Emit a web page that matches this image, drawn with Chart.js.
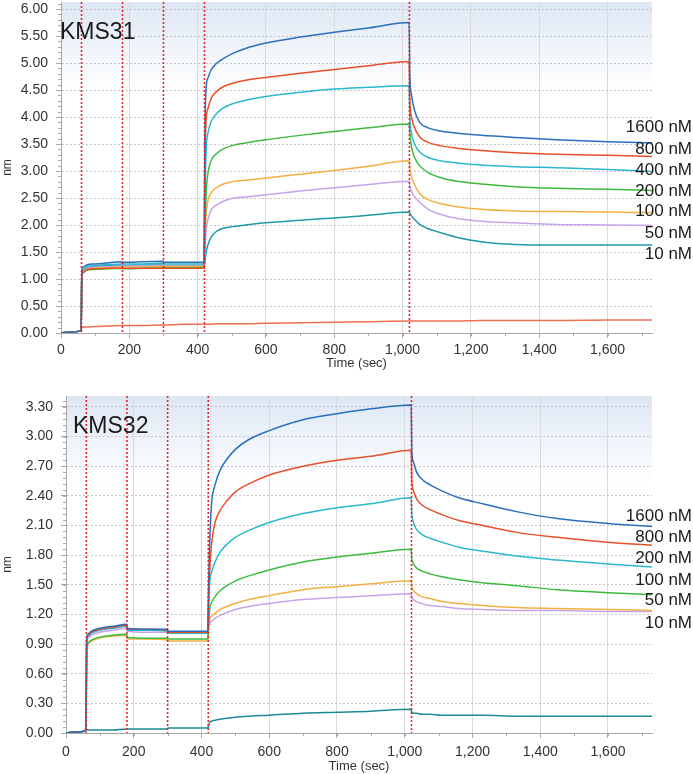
<!DOCTYPE html>
<html>
<head>
<meta charset="utf-8">
<script src="https://cdn.jsdelivr.net/npm/chart.js@4.4.1/dist/chart.umd.min.js"></script>
<style>
  html, body { margin: 0; padding: 0; background: #ffffff; }
  #wrap { position: relative; width: 693px; height: 774px; overflow: hidden; }
  canvas { position: absolute; left: 0; }
  #c1 { top: 0; }
  #c2 { top: 372px; }
</style>
</head>
<body>
<div id="wrap">
  <canvas id="c1" width="693" height="372"></canvas>
  <canvas id="c2" width="693" height="402"></canvas>
</div>
<script>
// ---------- DATA ----------
const time = [0, 30, 59, 61, 65, 75, 100, 140, 179, 181, 240, 299, 301, 360, 419,
  421, 425, 430, 440, 455, 475, 500, 540, 600, 700, 800, 900, 1019,
  1021, 1026, 1035, 1050, 1075, 1110, 1160, 1230, 1330, 1450, 1600, 1730];

const stepTimes = [60, 180, 300, 420, 1020];

// KMS31 (nm)
const k31_1600 = [0,0.02,0.05,1.15,1.22,1.26,1.28,1.30,1.32,1.31,1.32,1.33,1.31,1.31,1.31,
  3.5,4.55,4.72,4.88,4.99,5.08,5.17,5.27,5.37,5.48,5.57,5.65,5.75,
  4.8,4.4,4.12,3.9,3.8,3.74,3.70,3.66,3.62,3.58,3.54,3.52];
const k31_800 = [0,0.02,0.05,1.05,1.12,1.17,1.19,1.20,1.20,1.20,1.20,1.20,1.20,1.20,1.20,
  3.0,3.95,4.15,4.35,4.47,4.56,4.62,4.68,4.73,4.81,4.88,4.95,5.03,
  4.3,4.0,3.8,3.63,3.53,3.47,3.42,3.38,3.34,3.31,3.29,3.27];
const k31_400 = [0,0.02,0.05,1.12,1.18,1.23,1.25,1.27,1.28,1.28,1.28,1.29,1.28,1.28,1.28,
  2.4,3.4,3.7,3.92,4.06,4.17,4.24,4.31,4.38,4.46,4.52,4.55,4.58,
  4.0,3.7,3.5,3.35,3.25,3.19,3.15,3.11,3.08,3.06,3.03,2.99];
const k31_200 = [0,0.02,0.05,1.06,1.12,1.16,1.18,1.19,1.20,1.19,1.20,1.21,1.21,1.21,1.22,
  1.8,2.6,2.95,3.2,3.32,3.41,3.47,3.52,3.58,3.66,3.73,3.80,3.87,
  3.7,3.45,3.25,3.1,2.97,2.88,2.81,2.76,2.71,2.68,2.66,2.64];
const k31_100 = [0,0.02,0.05,1.08,1.14,1.18,1.20,1.21,1.22,1.22,1.22,1.23,1.23,1.23,1.23,
  1.6,2.2,2.45,2.6,2.69,2.76,2.80,2.83,2.87,2.94,3.01,3.09,3.19,
  3.05,2.9,2.75,2.58,2.47,2.40,2.34,2.29,2.26,2.25,2.24,2.23];
const k31_50 = [0,0.02,0.05,1.10,1.16,1.20,1.22,1.23,1.24,1.24,1.24,1.25,1.24,1.24,1.24,
  1.5,1.9,2.1,2.28,2.37,2.44,2.49,2.52,2.56,2.63,2.69,2.75,2.81,
  2.72,2.62,2.52,2.42,2.29,2.20,2.12,2.07,2.04,2.01,2.00,1.99];
const k31_10 = [0,0.02,0.05,1.10,1.16,1.21,1.23,1.25,1.26,1.25,1.26,1.26,1.25,1.25,1.25,
  1.3,1.5,1.63,1.78,1.88,1.94,1.97,2.00,2.04,2.09,2.13,2.18,2.24,
  2.22,2.17,2.10,2.01,1.93,1.86,1.77,1.69,1.64,1.63,1.63,1.63];
const k31_ref = [0,0.02,0.05,0.10,0.11,0.11,0.12,0.13,0.14,0.14,0.14,0.15,0.15,0.16,0.16,
  0.16,0.16,0.16,0.16,0.17,0.17,0.17,0.17,0.18,0.19,0.20,0.21,0.22,
  0.22,0.22,0.22,0.22,0.22,0.22,0.22,0.23,0.23,0.23,0.24,0.24];

// KMS32 (nm)
const k32_1600 = [0,0.01,0.03,0.95,1.00,1.03,1.06,1.08,1.10,1.06,1.05,1.05,1.03,1.03,1.03,
  1.5,2.0,2.33,2.51,2.66,2.77,2.87,2.97,3.06,3.17,3.23,3.28,3.32,
  2.85,2.74,2.64,2.57,2.51,2.45,2.38,2.32,2.24,2.17,2.12,2.09];
const k32_800 = [0,0.01,0.03,0.93,0.99,1.02,1.05,1.07,1.09,1.05,1.05,1.04,1.02,1.02,1.02,
  1.35,1.7,1.92,2.13,2.25,2.35,2.44,2.52,2.61,2.70,2.76,2.80,2.86,
  2.55,2.45,2.37,2.31,2.26,2.21,2.15,2.10,2.03,1.98,1.93,1.90];
const k32_200 = [0,0.01,0.03,0.92,0.98,1.01,1.04,1.06,1.08,1.04,1.04,1.03,1.01,1.01,1.01,
  1.3,1.55,1.63,1.73,1.83,1.91,1.98,2.05,2.13,2.22,2.28,2.32,2.38,
  2.22,2.13,2.06,2.01,1.97,1.93,1.88,1.84,1.79,1.75,1.71,1.68];
const k32_100 = [0,0.01,0.03,0.85,0.91,0.94,0.97,0.99,1.00,0.97,0.96,0.96,0.95,0.95,0.95,
  1.1,1.27,1.32,1.38,1.44,1.49,1.54,1.59,1.65,1.73,1.78,1.82,1.86,
  1.76,1.71,1.67,1.64,1.61,1.58,1.55,1.52,1.49,1.45,1.42,1.40];
const k32_50 = [0,0.01,0.03,0.84,0.90,0.93,0.96,0.98,0.99,0.95,0.95,0.94,0.93,0.93,0.93,
  1.05,1.15,1.18,1.21,1.25,1.28,1.31,1.35,1.39,1.45,1.48,1.51,1.54,
  1.48,1.44,1.41,1.38,1.36,1.33,1.31,1.29,1.27,1.26,1.25,1.24];
const k32_10 = [0,0.01,0.03,0.90,0.96,0.99,1.02,1.04,1.06,1.03,1.02,1.02,1.01,1.01,1.01,
  1.05,1.11,1.13,1.16,1.19,1.22,1.25,1.28,1.31,1.35,1.37,1.39,1.41,
  1.37,1.35,1.33,1.31,1.29,1.28,1.26,1.25,1.24,1.24,1.23,1.23];
const k32_ref = [0,0.01,0.02,0.03,0.03,0.03,0.03,0.03,0.04,0.04,0.04,0.04,0.05,0.05,0.05,
  0.08,0.11,0.12,0.13,0.14,0.15,0.16,0.17,0.18,0.20,0.21,0.22,0.24,
  0.21,0.20,0.20,0.19,0.19,0.18,0.18,0.18,0.17,0.17,0.17,0.17];

// Concentration labels and the nm level each label sits at
const labels31 = ['1600 nM', '800 nM', '400 nM', '200 nM', '100 nM', '50 nM', '10 nM'];
const labelLevel31 = [3.80, 3.41, 3.02, 2.63, 2.26, 1.84, 1.45];
const labels32 = ['1600 nM', '800 nM', '200 nM', '100 nM', '50 nM', '10 nM'];
const labelLevel32 = [2.19, 1.98, 1.77, 1.55, 1.34, 1.11];

// ---------- STYLE ----------
const C = {
  blue: '#2a6fbe', red: '#e8502a', cyan: '#2bb8cc', green: '#3dbb3d',
  orange: '#f4b042', purple: '#c5a4ec', teal: '#1f9aa6',
  ref31: '#f07050', ref32: '#1c8996'
};
const FONT = "'Liberation Sans', Arial, sans-serif";

function pts(vals) { return vals.map((v, i) => ({ x: time[i], y: v })); }
function ds(vals, color) {
  return { data: pts(vals), borderColor: color, backgroundColor: color, borderWidth: 1.5,
    pointRadius: 0, fill: false, cubicInterpolationMode: 'monotone' };
}

const bgPlugin = {
  id: 'bg',
  beforeDraw(chart) {
    const { ctx, chartArea: a } = chart;
    const g = ctx.createLinearGradient(0, a.top, 0, a.bottom);
    g.addColorStop(0, '#dde7f4');
    g.addColorStop(0.26, '#ffffff');
    g.addColorStop(1, '#ffffff');
    ctx.save();
    ctx.fillStyle = g;
    ctx.fillRect(a.left, a.top, a.right - a.left, a.bottom - a.top);
    ctx.restore();
  }
};

const minorPlugin = {
  id: 'minor',
  afterDraw(chart, args, opts) {
    const { ctx } = chart;
    const xs = chart.scales.x, ys = chart.scales.y;
    ctx.save();
    ctx.strokeStyle = '#a8a8a8';
    ctx.lineWidth = 1;
    ctx.beginPath();
    for (let v = ys.min; v <= ys.max + 1e-9; v += opts.yMinor) {
      const y = Math.round(ys.getPixelForValue(v)) + 0.5;
      ctx.moveTo(xs.left - 3, y); ctx.lineTo(xs.left, y);
    }
    for (let v = 0; v <= xs.max + 1e-9; v += opts.xMinor) {
      const x = Math.round(xs.getPixelForValue(v)) + 0.5;
      ctx.moveTo(x, ys.bottom); ctx.lineTo(x, ys.bottom + 3);
    }
    ctx.stroke();
    ctx.restore();
  }
};

const stepPlugin = {
  id: 'steps',
  afterDatasetsDraw(chart) {
    const { ctx, chartArea: a } = chart;
    const xs = chart.scales.x;
    ctx.save();
    ctx.strokeStyle = '#e4262a';
    ctx.lineWidth = 1.6;
    ctx.setLineDash([2, 2]);
    stepTimes.forEach(t => {
      const x = xs.getPixelForValue(t);
      ctx.beginPath();
      ctx.moveTo(x, a.top);
      ctx.lineTo(x, a.bottom);
      ctx.stroke();
    });
    ctx.restore();
  }
};

const textPlugin = {
  id: 'texts',
  afterDraw(chart, args, opts) {
    const { ctx, chartArea: a } = chart;
    const ys = chart.scales.y;
    ctx.save();
    ctx.fillStyle = '#1a1a1a';
    ctx.font = '23px ' + FONT;
    ctx.textBaseline = 'middle';
    ctx.textAlign = 'left';
    ctx.fillText(opts.title, a.left + opts.titleDx, a.top + 31);
    ctx.font = '17px ' + FONT;
    ctx.textAlign = 'right';
    opts.labels.forEach((s, i) => {
      ctx.fillText(s, chart.width - 1, ys.getPixelForValue(opts.levels[i]));
    });
    ctx.restore();
  }
};

function makeChart(id, datasets, cfg) {
  return new Chart(document.getElementById(id), {
    type: 'line',
    data: { datasets },
    plugins: [bgPlugin, stepPlugin, minorPlugin, textPlugin],
    options: {
      responsive: false,
      devicePixelRatio: 1,
      animation: false,
      layout: { padding: { left: 0, right: 41, top: cfg.padTop, bottom: 0 } },
      plugins: {
        legend: { display: false },
        tooltip: { enabled: false },
        minor: { yMinor: cfg.yMinor, xMinor: 100 },
        texts: { title: cfg.title, titleDx: cfg.titleDx, labels: cfg.labels, levels: cfg.levels }
      },
      scales: {
        x: {
          type: 'linear', min: 0, max: 1730,
          afterFit(s) { s.height = cfg.xHeight; s.paddingLeft = 0; s.paddingRight = 0; },
          grid: { color: '#dadada', lineWidth: 1, tickLength: 5, tickColor: '#a8a8a8' },
          border: { color: '#a8a8a8', width: 1 },
          ticks: { stepSize: 200, includeBounds: false, autoSkip: false, maxRotation: 0,
            padding: cfg.xPad, color: '#333333', font: { family: FONT, size: 14 },
            callback: v => v.toLocaleString('en-US') },
          title: { display: true, text: 'Time (sec)', color: '#333333',
            font: { family: FONT, size: 13 }, padding: { top: 0, bottom: cfg.titlePad } }
        },
        y: {
          type: 'linear', min: 0, max: cfg.yMax,
          afterFit(s) { s.width = cfg.yWidth; s.paddingTop = 0; s.paddingBottom = 0; },
          grid: { color: '#c8c8c8', lineWidth: 1, tickLength: 5, tickColor: '#a8a8a8' },
          border: { color: '#a8a8a8', width: 1, dash: [2, 2] },
          ticks: { stepSize: cfg.yStep, includeBounds: false, padding: 8, color: '#333333',
            font: { family: FONT, size: 14 }, callback: v => v.toFixed(2) },
          title: { display: true, text: 'nm', color: '#333333',
            font: { family: FONT, size: 12 }, padding: { top: 0, bottom: 0 } }
        }
      }
    }
  });
}

makeChart('c1', [
  ds(k31_1600, C.blue), ds(k31_800, C.red), ds(k31_400, C.cyan), ds(k31_200, C.green),
  ds(k31_100, C.orange), ds(k31_50, C.purple), ds(k31_10, C.teal), ds(k31_ref, C.ref31)
], { padTop: 2, yMax: 6.13, yStep: 0.5, yMinor: 0.1, yWidth: 61, xHeight: 39, xPad: 4,
     titlePad: 1, title: 'KMS31', titleDx: -1, labels: labels31, levels: labelLevel31 });

makeChart('c2', [
  ds(k32_1600, C.blue), ds(k32_800, C.red), ds(k32_200, C.cyan), ds(k32_100, C.green),
  ds(k32_50, C.orange), ds(k32_10, C.purple), ds(k32_ref, C.ref32)
], { padTop: 24, yMax: 3.41, yStep: 0.3, yMinor: 0.06, yWidth: 66, xHeight: 41, xPad: 6,
     titlePad: 0, title: 'KMS32', titleDx: 7, labels: labels32, levels: labelLevel32 });
</script>
</body>
</html>
